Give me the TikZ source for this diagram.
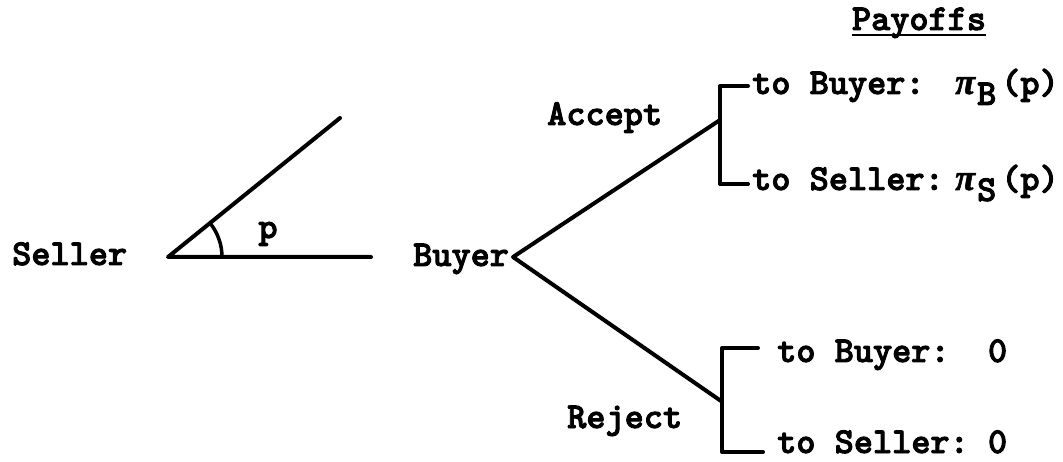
\documentclass[tikz,border=0pt]{standalone}
\usepackage{fontspec}
\newfontfamily\courbold{lmmonolt10-bold.otf}[FakeBold=2.5]
\newfontfamily\pifont{Liberation Serif}[BoldItalicFeatures={FakeBold=1.5}]
\begin{document}
\begin{tikzpicture}[x=1pt,y=-1pt,
  lbl/.style={font=\fontsize{36.5}{40}\selectfont\courbold, inner sep=0pt, anchor=base west},
  edge/.style={line width=4pt, line cap=round, line join=round}]
\useasboundingbox (0,0) rectangle (1063,462);
% Seller's offer
\node[lbl] (seller) at (12,265) {Seller};
\coordinate (sv) at (168,257);
\coordinate (sh) at (371,257);
\coordinate (su) at (340,118);
\draw[edge] (su) -- (sv) -- (sh);
\draw[line width=3.5pt] (sv) ++(54,0) arc[start angle=0,end angle=-39,radius=54];
\node[lbl,anchor=base] (p) at (268,238) {p};
% Buyer's decision
\node[lbl] (buyer) at (413,266) {Buyer};
\coordinate (bv) at (513,257);
\coordinate (acc) at (720,120);
\coordinate (rej) at (721,401);
\draw[edge] (acc) -- (bv) -- (rej);
\node[lbl] (accept) at (547,125) {Accept};
\node[lbl] (reject) at (567,428) {Reject};
% Payoffs header
\node[lbl,anchor=base] (payoffs) at (919,30) {Payoffs};
\draw[line width=2pt] ([yshift=-5pt]payoffs.base west) -- ([yshift=-5pt]payoffs.base east);
% accept payoffs
\node[lbl] (ab) at (752,94) {to Buyer:};
\node[lbl] (abv) at (955,94) {{\pifont\bfseries\itshape π}\kern2pt\raisebox{-0.3em}{B}\kern5pt(p)};
\node[lbl] (as) at (752,190) {to Seller:};
\node[lbl] (asv) at (955,190) {{\pifont\bfseries\itshape π}\kern2pt\raisebox{-0.3em}{S}\kern5pt(p)};
\coordinate (a1) at (748,86);
\coordinate (a2) at (720,86);
\coordinate (a3) at (720,184);
\coordinate (a4) at (748,184);
\draw[edge] (a1) -- (a2) -- (a3) -- (a4);
% reject payoffs
\node[lbl] (rb) at (777,362) {to Buyer:~~0};
\node[lbl] (rs) at (777,453) {to Seller:~0};
\coordinate (r1) at (758,348);
\coordinate (r2) at (722,348);
\coordinate (r3) at (722,452);
\coordinate (r4) at (763,452);
\draw[edge] (r1) -- (r2) -- (r3) -- (r4);
\end{tikzpicture}
\end{document}
